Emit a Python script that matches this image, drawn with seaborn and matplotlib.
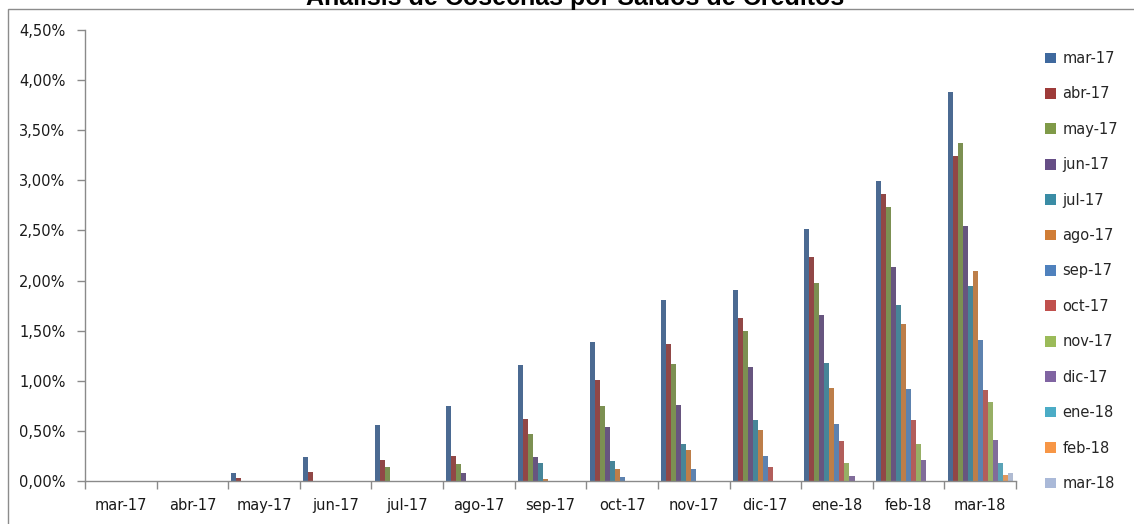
import numpy as np
import pandas as pd
import matplotlib
matplotlib.use("Agg")
import matplotlib.pyplot as plt
import seaborn as sns
from matplotlib.patches import Rectangle, Patch
from matplotlib.ticker import FuncFormatter, FixedLocator

nan = np.nan
months = ["mar-17", "abr-17", "may-17", "jun-17", "jul-17", "ago-17", "sep-17",
          "oct-17", "nov-17", "dic-17", "ene-18", "feb-18", "mar-18"]

s_mar17 = [nan, nan, 0.08, 0.24, 0.56, 0.75, 1.155, 1.385, 1.81, 1.905, 2.515, 2.995, 3.885]
s_abr17 = [nan, nan, 0.03, 0.09, 0.21, 0.25, 0.615, 1.005, 1.37, 1.63, 2.24, 2.865, 3.245]
s_may17 = [nan, nan, nan, nan, 0.135, 0.165, 0.47, 0.745, 1.165, 1.50, 1.98, 2.735, 3.375]
s_jun17 = [nan, nan, nan, nan, nan, 0.075, 0.24, 0.54, 0.76, 1.135, 1.66, 2.135, 2.545]
s_jul17 = [nan, nan, nan, nan, nan, nan, 0.18, 0.195, 0.37, 0.61, 1.18, 1.76, 1.95]
s_ago17 = [nan, nan, nan, nan, nan, nan, 0.015, 0.12, 0.31, 0.51, 0.93, 1.57, 2.095]
s_sep17 = [nan, nan, nan, nan, nan, nan, nan, 0.035, 0.12, 0.25, 0.57, 0.915, 1.41]
s_oct17 = [nan, nan, nan, nan, nan, nan, nan, nan, nan, 0.135, 0.40, 0.61, 0.905]
s_nov17 = [nan, nan, nan, nan, nan, nan, nan, nan, nan, nan, 0.175, 0.365, 0.79]
s_dic17 = [nan, nan, nan, nan, nan, nan, nan, nan, nan, nan, 0.045, 0.21, 0.405]
s_ene18 = [nan, nan, nan, nan, nan, nan, nan, nan, nan, nan, nan, nan, 0.175]
s_feb18 = [nan, nan, nan, nan, nan, nan, nan, nan, nan, nan, nan, nan, 0.06]
s_mar18 = [nan, nan, nan, nan, nan, nan, nan, nan, nan, nan, nan, nan, 0.075]

series = [s_mar17, s_abr17, s_may17, s_jun17, s_jul17, s_ago17, s_sep17,
          s_oct17, s_nov17, s_dic17, s_ene18, s_feb18, s_mar18]

colors = ["#3F699E", "#9E3B39", "#7F9A48", "#664E86", "#3A8CA5", "#D07D36",
          "#4F81BD", "#C0504D", "#9BBB59", "#8064A2", "#4BACC6", "#F79646", "#AAB9D8"]

title = "Análisis de Cosechas por Saldos de Créditos"

rows = []
for sname, vals in zip(months, series):
    for cat, v in zip(months, vals):
        if not np.isnan(v):
            rows.append({"cat": cat, "serie": sname, "val": v})
df = pd.DataFrame(rows)

sns.set_style("white")
plt.rcParams["font.family"] = ["DejaVu Sans"]

W, H = 1134, 524
fig = plt.figure(figsize=(W / 100, H / 100), dpi=100)
ax = fig.add_axes([85 / W, 1 - 481 / H, (1016 - 85) / W, (481 - 30) / H])

sns.barplot(data=df, x="cat", y="val", hue="serie", order=months, hue_order=months,
            palette=colors, width=0.91, linewidth=0, errorbar=None, ax=ax, legend=True)

if ax.get_legend() is not None:
    ax.get_legend().remove()

ax.set_xlim(-0.5, len(months) - 0.5)
ax.set_ylim(0, 4.5)
ax.set_yticks(np.arange(0, 4.51, 0.5))
ax.yaxis.set_major_formatter(FuncFormatter(lambda v, p: f"{v:.2f}".replace(".", ",") + "%"))
ax.set_xlabel("")
ax.set_ylabel("")

ax.xaxis.set_minor_locator(FixedLocator(np.arange(-0.5, len(months), 1.0)))
ax.tick_params(axis="x", which="major", length=0, pad=12, labelsize=10.5, labelcolor="#1a1a1a")
ax.tick_params(axis="x", which="minor", length=6, width=1, color="#8a8a8a", direction="out", bottom=True)
ax.tick_params(axis="y", which="major", length=6, width=1, color="#8a8a8a", direction="out",
               left=True, pad=8, labelsize=10.5, labelcolor="#1a1a1a")

for side in ["top", "right"]:
    ax.spines[side].set_visible(False)
for side in ["left", "bottom"]:
    ax.spines[side].set_color("#8a8a8a")
    ax.spines[side].set_linewidth(1)

leg_handles = [Patch(facecolor=c, edgecolor="none") for c in colors]
fig.legend(leg_handles, months, loc="upper left", bbox_to_anchor=(1045 / W, 1 - 51 / H),
           frameon=False, fontsize=10.5, handlelength=0.75, handleheight=0.75,
           handletextpad=0.45, labelspacing=1.40, borderaxespad=0, borderpad=0)

fig.text(575 / W, 1 - 5 / H, title, ha="center", va="baseline", fontsize=18,
         fontweight="bold", family="Liberation Sans", color="black")

fig.patches.append(Rectangle((7.5 / W, -0.05), 1.1, 1 - 9 / H + 0.05, transform=fig.transFigure,
                             fill=False, edgecolor="#8c8c8c", linewidth=1, figure=fig))

fig.savefig("out.png", dpi=100)
